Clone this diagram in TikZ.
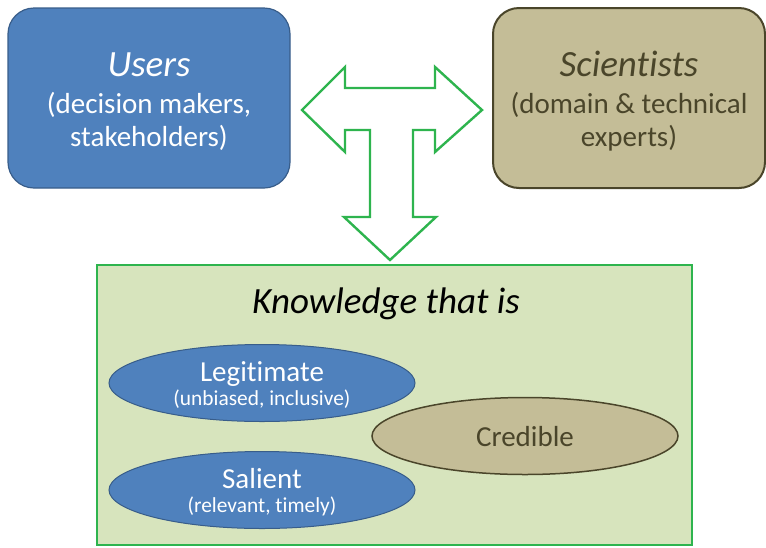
\documentclass[tikz,border=0pt]{standalone}
\usepackage{fontspec}
\setmainfont[Ligatures={NoCommon}]{Carlito}
\usetikzlibrary{shapes.geometric}

\definecolor{userblue}{HTML}{4F81BD}
\definecolor{userline}{HTML}{385D8A}
\definecolor{scitan}{HTML}{C4BD97}
\definecolor{sciline}{HTML}{4A452A}
\definecolor{knowfill}{HTML}{D7E4BD}
\definecolor{linkgreen}{HTML}{2EB44E}

\tikzset{
  partybox/.style={rectangle, rounded corners=26pt, minimum width=#1, minimum height=180pt, inner sep=0pt},
  userbox/.style={partybox=282pt, fill=userblue, draw=userline, line width=1.2pt},
  scibox/.style={partybox=272pt, fill=scitan, draw=sciline, line width=2pt},
  knowbox/.style={rectangle, minimum width=595pt, minimum height=280pt, fill=knowfill, draw=linkgreen, line width=2pt, inner sep=0pt},
  quality/.style={ellipse, minimum width=306pt, minimum height=77pt, inner sep=0pt},
  blueq/.style={quality, fill=userblue, draw=userline, line width=1pt},
  tanq/.style={quality, fill=scitan, draw=sciline, line width=1.5pt},
  titletext/.style={anchor=base, inner sep=0pt, font=\fontsize{37}{40}\selectfont\itshape},
  subtext/.style={anchor=base, inner sep=0pt, font=\fontsize{29}{32}\selectfont},
  qtext/.style={anchor=base, inner sep=0pt, font=\fontsize{29}{32}\selectfont},
  smalltext/.style={anchor=base, inner sep=0pt, font=\fontsize{21.4}{24}\selectfont},
  link/.style={draw=linkgreen, fill=white, line width=2.4pt, line join=miter}
}

\begin{document}
\begin{tikzpicture}[x=1pt, y=-1pt]
  \useasboundingbox (0,0) rectangle (766,547);

  % the two parties
  \node[userbox] (users) at (149,98) {};
  \node[scibox] (sci) at (629,98) {};

  \node[titletext, text=white] (usersT) at (149,76) {Users};
  \node[subtext, text=white] (usersA) at (149,113) {(decision makers,};
  \node[subtext, text=white] (usersB) at (149,146) {stakeholders)};

  \node[titletext, text=sciline] (sciT) at (629,76) {Scientists};
  \node[subtext, text=sciline] (sciA) at (629,113) {(domain \& technical};
  \node[subtext, text=sciline] (sciB) at (629,146) {experts)};

  % knowledge panel
  \node[knowbox] (know) at (394.5,405) {};
  \node[titletext, text=black] (knowT) at (386,313) {Knowledge that is};

  \node[blueq] (legit) at (262,383) {};
  \node[qtext, text=white] (legitT) at (262,381) {Legitimate};
  \node[smalltext, text=white] (legitS) at (262,405) {(unbiased, inclusive)};

  \node[blueq] (sal) at (262,490) {};
  \node[qtext, text=white] (salT) at (262,488) {Salient};
  \node[smalltext, text=white] (salS) at (262,512) {(relevant, timely)};

  \node[tanq] (cred) at (525,436) {};
  \node[qtext, text=sciline] (credT) at (525,446) {Credible};

  % T-shaped exchange arrow
  \draw[link]
    (302,110) -- (345,67) -- (345,88) -- (435,88) -- (435,67) -- (482,110)
    -- (435,152) -- (435,130) -- (413,130) -- (413,217) -- (436,217)
    -- (390,260) -- (344,217) -- (370,217) -- (370,130) -- (345,130)
    -- (345,152) -- cycle;
\end{tikzpicture}
\end{document}
